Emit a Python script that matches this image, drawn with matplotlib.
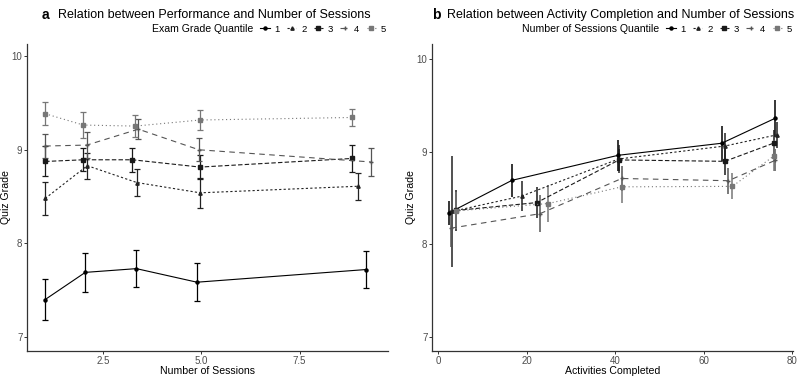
import matplotlib
matplotlib.use("Agg")
import matplotlib.pyplot as plt
from matplotlib.lines import Line2D

plt.rcParams['font.family'] = ['Liberation Sans', 'DejaVu Sans']

quantiles = ['1', '2', '3', '4', '5']

# Panel a: Number of sessions vs quiz grade, by exam grade quantile
a_x = [
    [1.03, 2.05, 3.35, 4.89, 9.18],
    [1.03, 2.10, 3.36, 4.97, 8.98],
    [1.03, 2.00, 3.25, 4.97, 8.83],
    [1.03, 2.09, 3.40, 4.94, 9.31],
    [1.03, 2.00, 3.32, 4.97, 8.84],
]
a_y = [
    [7.40, 7.69, 7.73, 7.585, 7.72],
    [8.48, 8.83, 8.65, 8.54, 8.61],
    [8.875, 8.893, 8.893, 8.815, 8.907],
    [9.04, 9.05, 9.22, 9.00, 8.87],
    [9.385, 9.264, 9.253, 9.318, 9.345],
]
a_err = [
    [0.22, 0.21, 0.20, 0.20, 0.20],
    [0.18, 0.14, 0.145, 0.16, 0.145],
    [0.16, 0.125, 0.13, 0.125, 0.14],
    [0.13, 0.14, 0.11, 0.125, 0.15],
    [0.12, 0.135, 0.12, 0.105, 0.095],
]

# Panel b: Activities completed vs quiz grade, by number of sessions quantile
b_x = [
    [2.5, 16.7, 40.7, 64.1, 76.2],
    [3.2, 18.9, 40.8, 64.8, 76.5],
    [4.0, 22.3, 40.9, 64.8, 76.0],
    [3.0, 23.0, 41.5, 65.6, 76.2],
    [4.0, 24.9, 41.5, 66.5, 76.0],
]
b_y = [
    [8.34, 8.69, 8.96, 9.09, 9.36],
    [8.355, 8.52, 8.92, 9.06, 9.18],
    [8.365, 8.45, 8.91, 8.895, 9.094],
    [8.175, 8.33, 8.71, 8.686, 8.906],
    [8.36, 8.44, 8.62, 8.625, 8.957],
]
b_err = [
    [0.13, 0.18, 0.17, 0.19, 0.20],
    [0.60, 0.16, 0.15, 0.14, 0.14],
    [0.22, 0.17, 0.12, 0.15, 0.14],
    [0.20, 0.20, 0.13, 0.14, 0.12],
    [0.20, 0.20, 0.17, 0.14, 0.17],
]

colors = ['#000000', '#222222', '#1a1a1a', '#555555', '#777777']
styles = ['-', (0, (2, 2)), (0, (4, 2)), (0, (5, 4)), (0, (1, 2.5))]
markers = ['o', '^', 's', '+', 's']
msizes = [2.2, 2.4, 2.4, 3.5, 2.6]

W, H = 798, 376
fig = plt.figure(figsize=(W / 100, H / 100), dpi=100)

def px_axes(l, r, t, b):
    return fig.add_axes([l / W, (H - b) / H, (r - l) / W, (b - t) / H])

axA = px_axes(27, 388, 44, 351)
axB = px_axes(432, 793, 44, 351)

def style_axis(ax):
    for s in ['top', 'right']:
        ax.spines[s].set_visible(False)
    for s in ['left', 'bottom']:
        ax.spines[s].set_color('#333333')
        ax.spines[s].set_linewidth(0.9)
    ax.tick_params(axis='both', colors='#333333', labelcolor='#4d4d4d',
                   labelsize=7, length=2.5, width=0.7, pad=0.8)

for i in range(5):
    axA.errorbar(a_x[i], a_y[i], yerr=a_err[i], color=colors[i], ecolor=colors[i],
                 linestyle=styles[i], linewidth=0.8, marker=markers[i], markersize=msizes[i],
                 elinewidth=0.9, capsize=2.0, capthick=0.9)
    axB.errorbar(b_x[i], b_y[i], yerr=b_err[i], color=colors[i], ecolor=colors[i],
                 linestyle=styles[i], linewidth=0.8, marker=markers[i], markersize=msizes[i],
                 elinewidth=1.1, capsize=0)

axA.set_xlim(0.567, 9.75)
axA.set_ylim(6.85, 10.13)
axA.set_xticks([2.5, 5.0, 7.5])
axA.set_xticklabels(['2.5', '5.0', '7.5'])
axA.set_yticks([7, 8, 9, 10])

axB.set_xlim(-1.36, 80.2)
axB.set_ylim(6.85, 10.16)
axB.set_xticks([0, 20, 40, 60, 80])
axB.set_yticks([7, 8, 9, 10])

for ax in (axA, axB):
    style_axis(ax)
    ax.set_ylabel('Quiz Grade', fontsize=7.6, color='black')
    ax.yaxis.set_label_coords(-0.043, 0.5)

axA.set_xlabel('Number of Sessions', fontsize=7.6, color='black')
axB.set_xlabel('Activities Completed', fontsize=7.6, color='black')
for ax in (axA, axB):
    ax.xaxis.set_label_coords(0.5, (351 - 370.5) / 307)
    ax.xaxis.label.set_verticalalignment('center')

# Titles
fig.text(42 / W, 1 - 15 / H, 'a', fontsize=10, fontweight='bold', va='center', ha='left')
fig.text(58 / W, 1 - 15 / H, 'Relation between Performance and Number of Sessions',
         fontsize=9, va='center', ha='left')
fig.text(432 / W, 1 - 15 / H, 'b', fontsize=10, fontweight='bold', va='center', ha='left')
fig.text(447 / W, 1 - 15 / H, 'Relation between Activity Completion and Number of Sessions',
         fontsize=9, va='center', ha='left')

handles = [Line2D([0], [0], color=colors[i], linestyle=styles[i], linewidth=0.8,
                  marker=markers[i], markersize=msizes[i]) for i in range(5)]

def add_legend(title, right_px):
    leg = fig.legend(handles, quantiles, loc='center right', ncol=5,
                     bbox_to_anchor=(right_px / W, 1 - 29 / H), frameon=False,
                     fontsize=6.8, handlelength=1.0, handletextpad=0.5,
                     columnspacing=0.75, borderpad=0, borderaxespad=0)
    fig.canvas.draw()
    bb = leg.get_window_extent()
    fig.text((bb.x0 - 7) / W, 1 - 29 / H, title, fontsize=7.6, ha='right', va='center')

add_legend('Exam Grade Quantile', 386)
add_legend('Number of Sessions Quantile', 792)

fig.savefig('out.png', dpi=100)
